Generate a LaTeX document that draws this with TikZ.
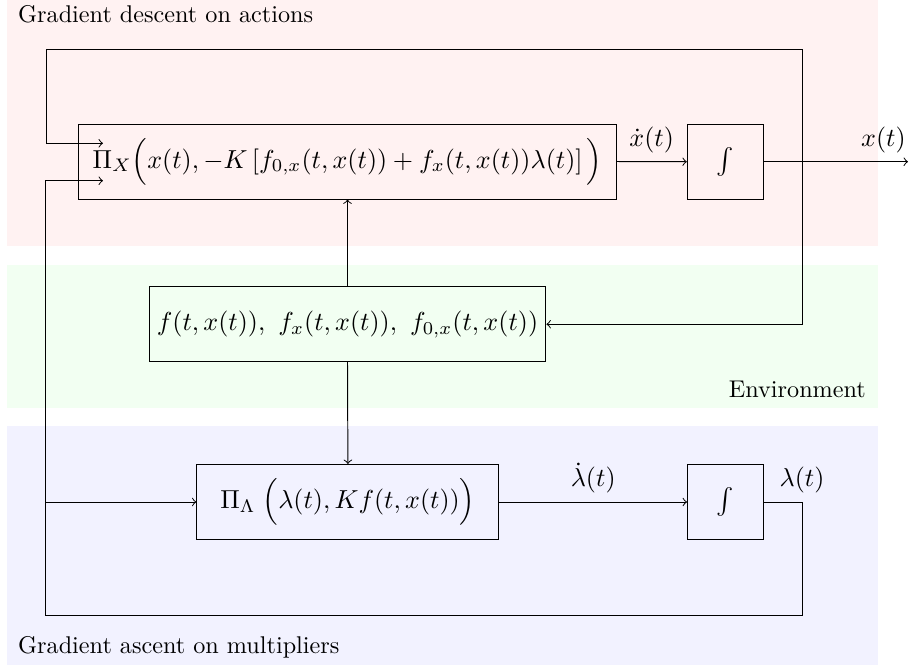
\documentclass[tikz,border=0pt]{standalone}
\usepackage{graphicx}
\usetikzlibrary{calc}
\newcommand{\bm}[1]{\scalebox{1.075}{$#1$}}
\begin{document}
\begin{tikzpicture}[x=0.4132pt,y=-0.4132pt,
  blk/.style={draw, minimum height=31pt, inner sep=3pt},
  intbox/.style={draw, minimum width=31.4pt, minimum height=31pt, inner sep=0pt},
  lbl/.style={inner sep=0pt},
  >=to]
\useasboundingbox (0,0) rectangle (909,665);
% background regions
\fill[red!5]   (7.3,0)   rectangle (878,246);
\fill[green!5] (7.3,265) rectangle (878,408);
\fill[blue!5]  (7.3,426) rectangle (878,665);
% region titles
\node[lbl, anchor=base west] (tA) at (17.7,22.5) {Gradient descent on actions};
\node[lbl, anchor=base east] (tE) at (866.3,397.3) {Environment};
\node[lbl, anchor=base west] (tB) at (17.7,653) {Gradient ascent on multipliers};
% blocks
\node[blk, minimum width=221.9pt] (px) at (347.5,161.5)
  {\bm{\Pi_X\Big(x(t), -K\left[f_{0,x}(t,x(t)) + f_x(t,x(t))\lambda(t)\right]\Big)}};
\node[intbox] (i1) at (725.3,161.7) {\bm{\int}};
\node[blk, minimum width=164pt] (env) at (347.5,324.2)
  {\bm{f(t,x(t)),\ f_x(t,x(t)),\ f_{0,x}(t,x(t))}};
\node[blk, minimum width=124.8pt] (pl) at (347.9,502)
  {\bm{\Pi_\Lambda\;\Big(\lambda(t), Kf(t,x(t))\Big)}};
\node[intbox] (i2) at (725.5,502) {\bm{\int}};
% coordinates
\coordinate (xo) at (908,161.7);
\coordinate (tl) at (46,49);
\coordinate (tr) at (802,49);
\coordinate (inA) at (103,143.3);
\coordinate (inB) at (103,180.7);
\coordinate (lc) at (802,502);
\coordinate (bl) at (45,615.3);
\coordinate (br) at (802,615.3);
% connectors
\draw[->] (px.east) -- (i1.west) node[midway, above] {\bm{\dot x(t)}};
\draw[->] (i1.east) -- (xo) node[pos=0.83, above] {\bm{x(t)}};
\draw[<->] (inA) -- (tl |- inA) -- (tl) -- (tr) -- (tr |- env.east) -- (env.east);
\draw[->] (env.north) -- (px.south);
\draw[->] (env.south) -- (pl.north);
\draw[->] (pl.east) -- (i2.west) node[midway, above] {\bm{\dot\lambda(t)}};
\draw (i2.east) -- (lc) node[above] {\bm{\lambda(t)}} -- (br) -- (bl) -- (bl |- inB);
\draw[->] (bl |- inB) -- (inB);
\draw[->] (bl |- pl.west) -- (pl.west);
\end{tikzpicture}
\end{document}
